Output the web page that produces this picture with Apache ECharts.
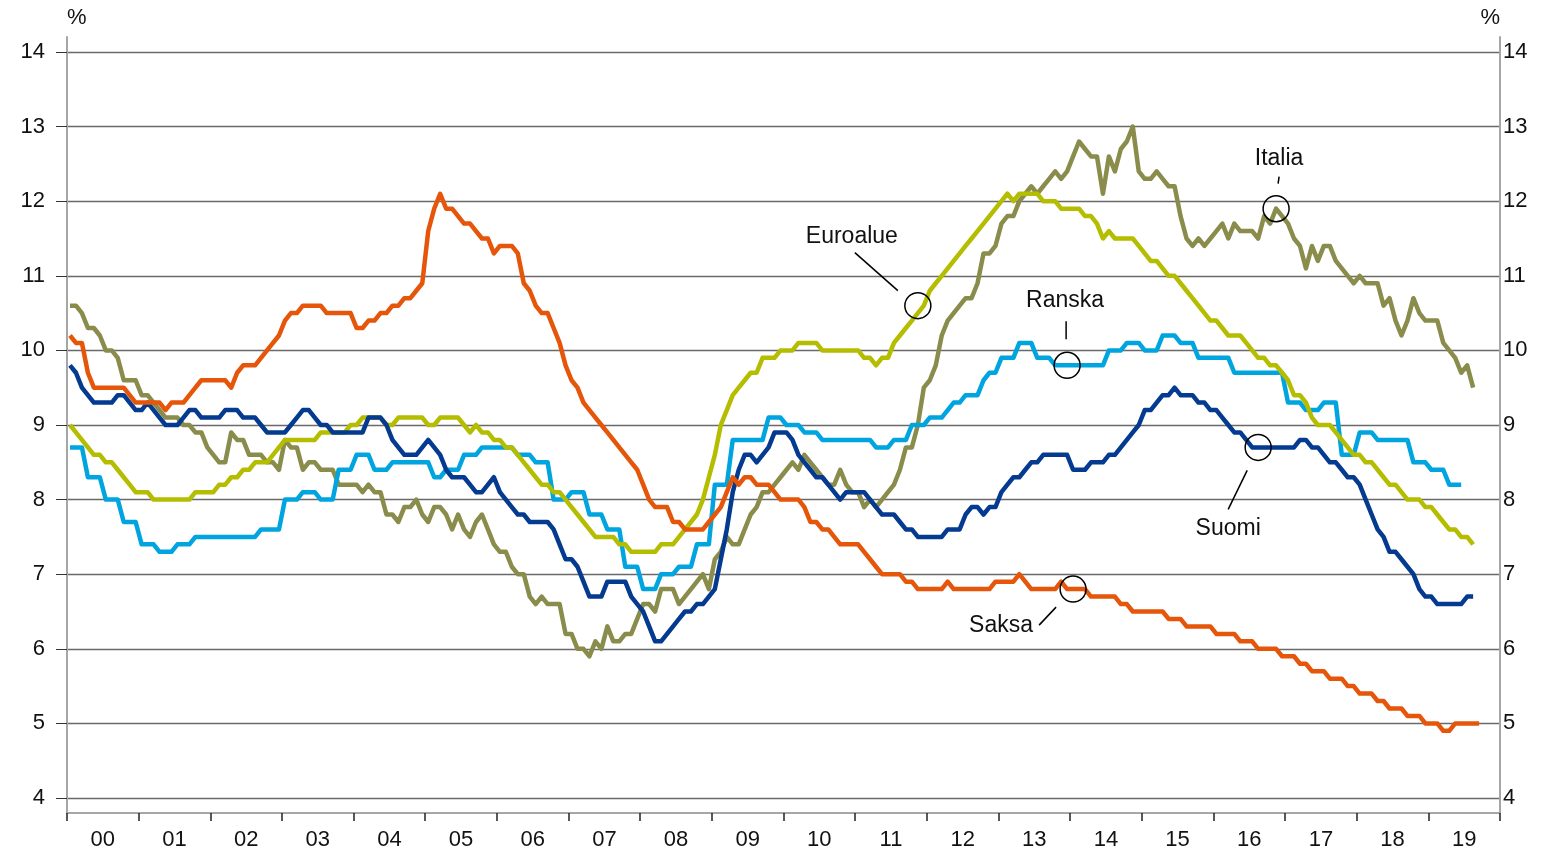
<!DOCTYPE html>
<html>
<head>
<meta charset="utf-8">
<script src="https://cdn.jsdelivr.net/npm/echarts@6/dist/echarts.min.js"></script>
<style>
  html, body { margin: 0; padding: 0; background: #fff; }
  #chart { width: 1550px; height: 857px; }
</style>
</head>
<body>
<div id="chart"></div>
<script>
// vuodet x-akselille
var years = ['00', '01', '02', '03', '04', '05', '06', '07', '08', '09',
             '10', '11', '12', '13', '14', '15', '16', '17', '18', '19'];

// kuukausiarvot, %, tammikuu 2000 alkaen
var saksa = [
  10.2, 10.1, 10.1, 9.7, 9.5, 9.5, 9.5, 9.5, 9.5, 9.5, 9.4, 9.3,
  9.3, 9.3, 9.3, 9.3, 9.2, 9.3, 9.3, 9.3, 9.4, 9.5, 9.6, 9.6,
  9.6, 9.6, 9.6, 9.5, 9.7, 9.8, 9.8, 9.8, 9.9, 10.0, 10.1, 10.2,
  10.4, 10.5, 10.5, 10.6, 10.6, 10.6, 10.6, 10.5, 10.5, 10.5, 10.5, 10.5,
  10.3, 10.3, 10.4, 10.4, 10.5, 10.5, 10.6, 10.6, 10.7, 10.7, 10.8, 10.9,
  11.6, 11.9, 12.1, 11.9, 11.9, 11.8, 11.7, 11.7, 11.6, 11.5, 11.5, 11.3,
  11.4, 11.4, 11.4, 11.3, 10.9, 10.8, 10.6, 10.5, 10.5, 10.3, 10.1, 9.8,
  9.6, 9.5, 9.3, 9.2, 9.1, 9.0, 8.9, 8.8, 8.7, 8.6, 8.5, 8.4,
  8.2, 8.0, 7.9, 7.9, 7.9, 7.7, 7.7, 7.6, 7.6, 7.6, 7.6, 7.7,
  7.8, 7.9, 8.1, 8.3, 8.2, 8.3, 8.3, 8.2, 8.2, 8.2, 8.1, 8.0,
  8.0, 8.0, 8.0, 7.9, 7.7, 7.7, 7.6, 7.6, 7.5, 7.4, 7.4, 7.4,
  7.4, 7.3, 7.2, 7.1, 7.0, 7.0, 7.0, 7.0, 6.9, 6.9, 6.8, 6.8,
  6.8, 6.8, 6.8, 6.9, 6.8, 6.8, 6.8, 6.8, 6.8, 6.8, 6.8, 6.9,
  6.9, 6.9, 6.9, 7.0, 6.9, 6.8, 6.8, 6.8, 6.8, 6.8, 6.9, 6.8,
  6.8, 6.8, 6.8, 6.7, 6.7, 6.7, 6.7, 6.7, 6.6, 6.6, 6.5, 6.5,
  6.5, 6.5, 6.5, 6.5, 6.4, 6.4, 6.4, 6.3, 6.3, 6.3, 6.3, 6.3,
  6.2, 6.2, 6.2, 6.2, 6.1, 6.1, 6.1, 6.0, 6.0, 6.0, 6.0, 5.9,
  5.9, 5.9, 5.8, 5.8, 5.7, 5.7, 5.7, 5.6, 5.6, 5.6, 5.5, 5.5,
  5.4, 5.4, 5.4, 5.3, 5.3, 5.2, 5.2, 5.2, 5.1, 5.1, 5.1, 5.0,
  5.0, 5.0, 4.9, 4.9, 5.0, 5.0, 5.0, 5.0, 5.0
];
var suomi = [
  9.8, 9.7, 9.5, 9.4, 9.3, 9.3, 9.3, 9.3, 9.4, 9.4, 9.3, 9.2,
  9.2, 9.3, 9.2, 9.1, 9.0, 9.0, 9.0, 9.1, 9.2, 9.2, 9.1, 9.1,
  9.1, 9.1, 9.2, 9.2, 9.2, 9.1, 9.1, 9.1, 9.0, 8.9, 8.9, 8.9,
  8.9, 9.0, 9.1, 9.2, 9.2, 9.1, 9.0, 9.0, 8.9, 8.9, 8.9, 8.9,
  8.9, 8.9, 9.1, 9.1, 9.1, 9.0, 8.8, 8.7, 8.6, 8.6, 8.6, 8.7,
  8.8, 8.7, 8.6, 8.4, 8.3, 8.3, 8.3, 8.2, 8.1, 8.1, 8.2, 8.3,
  8.1, 8.0, 7.9, 7.8, 7.8, 7.7, 7.7, 7.7, 7.7, 7.6, 7.4, 7.2,
  7.2, 7.1, 6.9, 6.7, 6.7, 6.7, 6.9, 6.9, 6.9, 6.9, 6.7, 6.6,
  6.5, 6.3, 6.1, 6.1, 6.2, 6.3, 6.4, 6.5, 6.5, 6.6, 6.6, 6.7,
  6.8, 7.2, 7.6, 8.1, 8.4, 8.6, 8.6, 8.5, 8.6, 8.7, 8.9, 8.9,
  8.9, 8.8, 8.6, 8.5, 8.4, 8.3, 8.3, 8.2, 8.1, 8.0, 8.1, 8.1,
  8.1, 8.1, 8.0, 7.9, 7.8, 7.8, 7.8, 7.7, 7.6, 7.6, 7.5, 7.5,
  7.5, 7.5, 7.5, 7.6, 7.6, 7.6, 7.8, 7.9, 7.9, 7.8, 7.9, 7.9,
  8.1, 8.2, 8.3, 8.3, 8.4, 8.5, 8.5, 8.6, 8.6, 8.6, 8.6, 8.6,
  8.4, 8.4, 8.4, 8.5, 8.5, 8.5, 8.6, 8.6, 8.7, 8.8, 8.9, 9.0,
  9.2, 9.2, 9.3, 9.4, 9.4, 9.5, 9.4, 9.4, 9.4, 9.3, 9.3, 9.2,
  9.2, 9.1, 9.0, 8.9, 8.9, 8.8, 8.7, 8.7, 8.7, 8.7, 8.7, 8.7,
  8.7, 8.7, 8.8, 8.8, 8.7, 8.7, 8.6, 8.5, 8.5, 8.4, 8.3, 8.3,
  8.2, 8.0, 7.8, 7.6, 7.5, 7.3, 7.3, 7.2, 7.1, 7.0, 6.8, 6.7,
  6.7, 6.6, 6.6, 6.6, 6.6, 6.6, 6.7, 6.7
];
var euroalue = [
  9.0, 8.9, 8.8, 8.7, 8.6, 8.6, 8.5, 8.5, 8.4, 8.3, 8.2, 8.1,
  8.1, 8.1, 8.0, 8.0, 8.0, 8.0, 8.0, 8.0, 8.0, 8.1, 8.1, 8.1,
  8.1, 8.2, 8.2, 8.3, 8.3, 8.4, 8.4, 8.5, 8.5, 8.5, 8.6, 8.7,
  8.8, 8.8, 8.8, 8.8, 8.8, 8.8, 8.9, 8.9, 8.9, 8.9, 8.9, 9.0,
  9.0, 9.1, 9.1, 9.1, 9.1, 9.0, 9.0, 9.1, 9.1, 9.1, 9.1, 9.1,
  9.0, 9.0, 9.1, 9.1, 9.1, 9.1, 9.0, 8.9, 9.0, 8.9, 8.9, 8.8,
  8.8, 8.7, 8.7, 8.6, 8.5, 8.4, 8.3, 8.2, 8.2, 8.1, 8.1, 8.0,
  7.9, 7.8, 7.7, 7.6, 7.5, 7.5, 7.5, 7.5, 7.4, 7.4, 7.3, 7.3,
  7.3, 7.3, 7.3, 7.4, 7.4, 7.4, 7.5, 7.6, 7.7, 7.8, 8.0, 8.3,
  8.6, 9.0, 9.2, 9.4, 9.5, 9.6, 9.7, 9.7, 9.9, 9.9, 9.9, 10.0,
  10.0, 10.0, 10.1, 10.1, 10.1, 10.1, 10.0, 10.0, 10.0, 10.0, 10.0, 10.0,
  10.0, 9.9, 9.9, 9.8, 9.9, 9.9, 10.1, 10.2, 10.3, 10.4, 10.5, 10.6,
  10.8, 10.9, 11.0, 11.1, 11.2, 11.3, 11.4, 11.5, 11.6, 11.7, 11.8, 11.9,
  12.0, 12.1, 12.0, 12.1, 12.1, 12.1, 12.1, 12.0, 12.0, 12.0, 11.9, 11.9,
  11.9, 11.9, 11.8, 11.8, 11.7, 11.5, 11.6, 11.5, 11.5, 11.5, 11.5, 11.4,
  11.3, 11.2, 11.2, 11.1, 11.0, 11.0, 10.9, 10.8, 10.7, 10.6, 10.5, 10.4,
  10.4, 10.3, 10.2, 10.2, 10.2, 10.1, 10.0, 9.9, 9.9, 9.8, 9.8, 9.7,
  9.6, 9.4, 9.4, 9.3, 9.1, 9.0, 9.0, 9.0, 8.9, 8.8, 8.7, 8.6,
  8.6, 8.5, 8.5, 8.4, 8.3, 8.2, 8.2, 8.1, 8.0, 8.0, 8.0, 7.9,
  7.9, 7.8, 7.7, 7.6, 7.6, 7.5, 7.5, 7.4
];
var ranska = [
  8.7, 8.7, 8.7, 8.3, 8.3, 8.3, 8.0, 8.0, 8.0, 7.7, 7.7, 7.7,
  7.4, 7.4, 7.4, 7.3, 7.3, 7.3, 7.4, 7.4, 7.4, 7.5, 7.5, 7.5,
  7.5, 7.5, 7.5, 7.5, 7.5, 7.5, 7.5, 7.5, 7.6, 7.6, 7.6, 7.6,
  8.0, 8.0, 8.0, 8.1, 8.1, 8.1, 8.0, 8.0, 8.0, 8.4, 8.4, 8.4,
  8.6, 8.6, 8.6, 8.4, 8.4, 8.4, 8.5, 8.5, 8.5, 8.5, 8.5, 8.5,
  8.5, 8.3, 8.3, 8.4, 8.4, 8.4, 8.6, 8.6, 8.6, 8.7, 8.7, 8.7,
  8.7, 8.7, 8.7, 8.6, 8.6, 8.6, 8.5, 8.5, 8.5, 8.0, 8.0, 8.0,
  8.1, 8.1, 8.1, 7.8, 7.8, 7.8, 7.6, 7.6, 7.6, 7.1, 7.1, 7.1,
  6.8, 6.8, 6.8, 7.0, 7.0, 7.0, 7.1, 7.1, 7.1, 7.4, 7.4, 7.4,
  8.2, 8.2, 8.2, 8.8, 8.8, 8.8, 8.8, 8.8, 8.8, 9.1, 9.1, 9.1,
  9.0, 9.0, 9.0, 8.9, 8.9, 8.9, 8.8, 8.8, 8.8, 8.8, 8.8, 8.8,
  8.8, 8.8, 8.8, 8.7, 8.7, 8.7, 8.8, 8.8, 8.8, 9.0, 9.0, 9.0,
  9.1, 9.1, 9.1, 9.2, 9.3, 9.3, 9.4, 9.4, 9.4, 9.6, 9.7, 9.7,
  9.9, 9.9, 9.9, 10.1, 10.1, 10.1, 9.9, 9.9, 9.9, 9.8, 9.8, 9.8,
  9.8, 9.8, 9.8, 9.8, 9.8, 9.8, 10.0, 10.0, 10.0, 10.1, 10.1, 10.1,
  10.0, 10.0, 10.0, 10.2, 10.2, 10.2, 10.1, 10.1, 10.1, 9.9, 9.9, 9.9,
  9.9, 9.9, 9.9, 9.7, 9.7, 9.7, 9.7, 9.7, 9.7, 9.7, 9.7, 9.7,
  9.3, 9.3, 9.3, 9.2, 9.2, 9.2, 9.3, 9.3, 9.3, 8.6, 8.6, 8.6,
  8.9, 8.9, 8.9, 8.8, 8.8, 8.8, 8.8, 8.8, 8.8, 8.5, 8.5, 8.5,
  8.4, 8.4, 8.4, 8.2, 8.2, 8.2
];
var italia = [
  10.6, 10.6, 10.5, 10.3, 10.3, 10.2, 10.0, 10.0, 9.9, 9.6, 9.6, 9.6,
  9.4, 9.4, 9.3, 9.2, 9.1, 9.1, 9.1, 9.0, 9.0, 8.9, 8.9, 8.7,
  8.6, 8.5, 8.5, 8.9, 8.8, 8.8, 8.6, 8.6, 8.6, 8.5, 8.5, 8.4,
  8.8, 8.7, 8.7, 8.4, 8.5, 8.5, 8.4, 8.4, 8.4, 8.2, 8.2, 8.2,
  8.2, 8.1, 8.2, 8.1, 8.1, 7.8, 7.8, 7.7, 7.9, 7.9, 8.0, 7.8,
  7.7, 7.9, 7.9, 7.8, 7.6, 7.8, 7.6, 7.5, 7.7, 7.8, 7.6, 7.4,
  7.3, 7.3, 7.1, 7.0, 7.0, 6.7, 6.6, 6.7, 6.6, 6.6, 6.6, 6.2,
  6.2, 6.0, 6.0, 5.9, 6.1, 6.0, 6.3, 6.1, 6.1, 6.2, 6.2, 6.4,
  6.6, 6.6, 6.5, 6.8, 6.8, 6.8, 6.6, 6.7, 6.8, 6.9, 7.0, 6.8,
  7.2, 7.3, 7.5, 7.4, 7.4, 7.6, 7.8, 7.9, 8.1, 8.1, 8.2, 8.3,
  8.4, 8.5, 8.4, 8.6, 8.5, 8.4, 8.3, 8.2, 8.2, 8.4, 8.2, 8.1,
  8.1, 7.9, 8.0, 7.9, 8.0, 8.1, 8.2, 8.4, 8.7, 8.7, 9.0, 9.5,
  9.6, 9.8, 10.2, 10.4, 10.5, 10.6, 10.7, 10.7, 10.9, 11.3, 11.3, 11.4,
  11.7, 11.8, 11.8, 12.0, 12.1, 12.2, 12.1, 12.2, 12.3, 12.4, 12.3, 12.4,
  12.6, 12.8, 12.7, 12.6, 12.6, 12.1, 12.6, 12.4, 12.7, 12.8, 13.0, 12.4,
  12.3, 12.3, 12.4, 12.3, 12.2, 12.2, 11.8, 11.5, 11.4, 11.5, 11.4, 11.5,
  11.6, 11.7, 11.5, 11.7, 11.6, 11.6, 11.6, 11.5, 11.8, 11.7, 11.9, 11.8,
  11.7, 11.5, 11.4, 11.1, 11.4, 11.2, 11.4, 11.4, 11.2, 11.1, 11.0, 10.9,
  11.0, 10.9, 10.9, 10.9, 10.6, 10.7, 10.4, 10.2, 10.4, 10.7, 10.5, 10.4,
  10.4, 10.4, 10.1, 10.0, 9.9, 9.7, 9.8, 9.5
];

var months = [];
years.forEach(function (y) {
  for (var m = 1; m <= 12; m++) months.push(y + '/' + m);
});

// nimiöt: [sarja, kuukausi-indeksi, arvo, tekstin siirto, viivan alku, viivan loppu]
var notes = [
  ['Euroalue', 142, 10.6, [-66, -69], [-63, -53], [-20, -15]],
  ['Ranska', 167, 9.8, [-2, -65], [-1, -44], [-1, -26]],
  ['Italia', 202, 11.9, [3, -50], [3, -32], [2, -25]],
  ['Suomi', 199, 8.7, [-30, 81], [-11, 23], [-30, 62]],
  ['Saksa', 168, 6.8, [-72, 37], [-17, 18], [-34, 36]]
];

var FONT = 'Liberation Sans, Arial, sans-serif';
var FS = 22;

function line(name, data, color) {
  return {
    name: name,
    type: 'line',
    data: data,
    showSymbol: false,
    symbol: 'none',
    xAxisIndex: 0,
    yAxisIndex: 0,
    lineStyle: { color: color, width: 4.5, join: 'round' },
    itemStyle: { color: color },
    animation: false
  };
}

var myChart = echarts.init(document.getElementById('chart'));
var option = {
  backgroundColor: '#fff',
  animation: false,
  textStyle: { fontFamily: FONT },
  grid: [
    { left: 67, right: 50, top: 52, bottom: 59 },   // data
    { left: 67, right: 50, top: 37, bottom: 44 }    // kehys
  ],
  xAxis: [
    {
      type: 'category', gridIndex: 0, data: months, boundaryGap: true, show: false
    },
    {
      type: 'category', gridIndex: 1, data: years, boundaryGap: true,
      axisLine: { lineStyle: { color: '#a6a6a6', width: 2 } },
      axisTick: { show: true, length: 8, lineStyle: { color: '#222', width: 1.5 } },
      axisLabel: { fontSize: FS, color: '#111', margin: 16, fontFamily: FONT },
      splitLine: { show: false }
    }
  ],
  yAxis: [
    {
      type: 'value', gridIndex: 0, min: 4, max: 14, interval: 1,
      axisLine: { show: false },
      axisTick: { show: true, length: 11, lineStyle: { color: '#333', width: 1 } },
      axisLabel: { fontSize: FS, color: '#111', margin: 22, fontFamily: FONT },
      splitLine: { show: true, lineStyle: { color: '#6a6a6a', width: 1.3 } }
    },
    {
      type: 'value', gridIndex: 0, min: 4, max: 14, interval: 1, position: 'right',
      axisLine: { show: false },
      axisTick: { show: false },
      axisLabel: { fontSize: FS, color: '#111', margin: 3, fontFamily: FONT },
      splitLine: { show: false }
    },
    {
      type: 'value', gridIndex: 1, min: 0, max: 1, position: 'left',
      name: '%', nameLocation: 'end', nameGap: 8,
      nameTextStyle: { fontSize: FS, color: '#111', align: 'left', fontFamily: FONT },
      axisLine: { show: true, lineStyle: { color: '#a6a6a6', width: 2 } },
      axisTick: { show: false }, axisLabel: { show: false }, splitLine: { show: false }
    },
    {
      type: 'value', gridIndex: 1, min: 0, max: 1, position: 'right',
      name: '%', nameLocation: 'end', nameGap: 8,
      nameTextStyle: { fontSize: FS, color: '#111', align: 'right', fontFamily: FONT },
      axisLine: { show: true, lineStyle: { color: '#a6a6a6', width: 2 } },
      axisTick: { show: false }, axisLabel: { show: false }, splitLine: { show: false }
    }
  ],
  series: [
    line('Italia', italia, '#8a8c4b'),
    line('Ranska', ranska, '#00a5e0'),
    line('Euroalue', euroalue, '#b5bd00'),
    line('Suomi', suomi, '#043a90'),
    line('Saksa', saksa, '#e5550a')
  ]
};
myChart.setOption(option);

// nimiöt ympyröineen ja viivoineen
var graphics = [];
notes.forEach(function (n) {
  var p = myChart.convertToPixel({ xAxisIndex: 0, yAxisIndex: 0 }, [n[1], n[2]]);
  graphics.push({
    type: 'circle', shape: { cx: p[0], cy: p[1], r: 13 },
    style: { fill: 'none', stroke: '#000', lineWidth: 1.5 }, z: 100
  });
  graphics.push({
    type: 'line',
    shape: { x1: p[0] + n[4][0], y1: p[1] + n[4][1], x2: p[0] + n[5][0], y2: p[1] + n[5][1] },
    style: { stroke: '#000', lineWidth: 1.5 }, z: 100
  });
  graphics.push({
    type: 'text', x: p[0] + n[3][0], y: p[1] + n[3][1],
    style: {
      text: n[0], fontSize: 23, fill: '#111', fontFamily: FONT,
      align: 'center', verticalAlign: 'middle'
    }, z: 100
  });
});
myChart.setOption({ graphic: graphics });
</script>
</body>
</html>
